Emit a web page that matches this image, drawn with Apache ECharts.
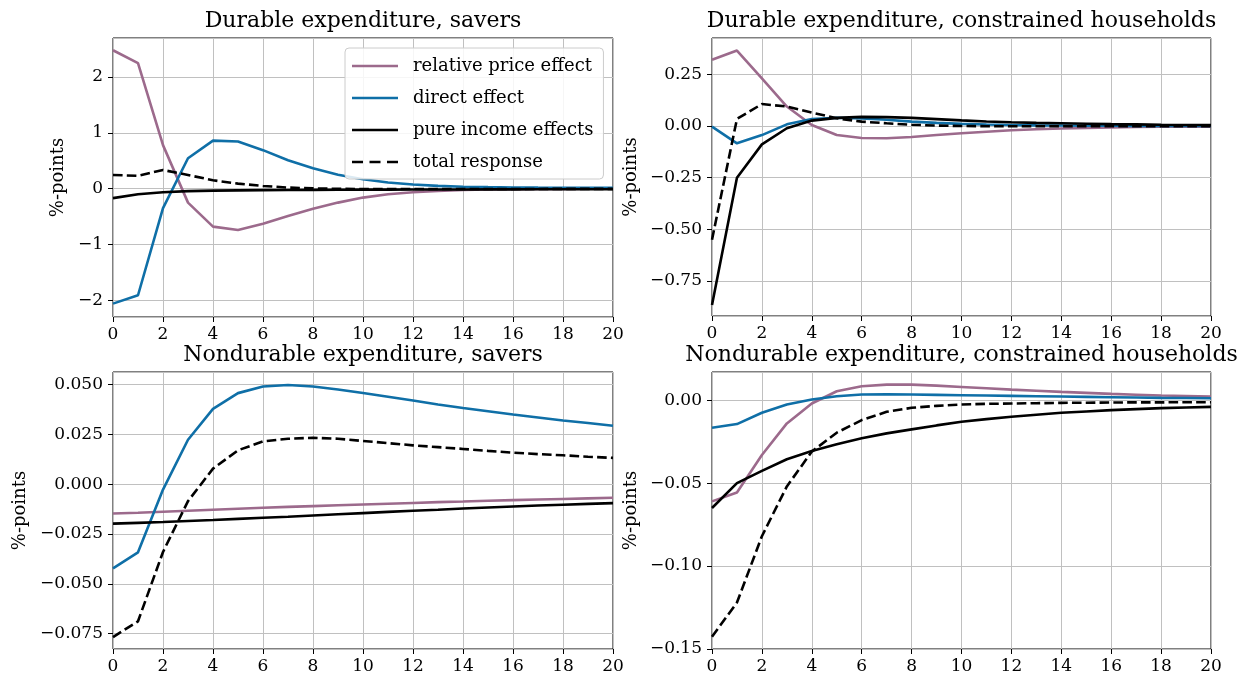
<!DOCTYPE html>
<html>
<head>
<meta charset="utf-8">
<script src="https://cdn.jsdelivr.net/npm/echarts@6/dist/echarts.min.js"></script>
<style>
  html, body { margin: 0; padding: 0; background: #fff; }
  #main { width: 1242px; height: 679px; }
</style>
</head>
<body>
<div id="main"></div>
<script>
// horizon (quarters)
var periods = [0, 1, 2, 3, 4, 5, 6, 7, 8, 9, 10, 11, 12, 13, 14, 15, 16, 17, 18, 19, 20];
var seriesNames = ["relative price effect", "direct effect", "pure income effects", "total response"];
var panelTitles = [
  "Durable expenditure, savers",
  "Durable expenditure, constrained households",
  "Nondurable expenditure, savers",
  "Nondurable expenditure, constrained households"
];

// durable, savers
var relPrice1 = [2.48, 2.25, 0.78, -0.25, -0.68, -0.74, -0.63, -0.49, -0.36, -0.25, -0.16, -0.10, -0.065, -0.04, -0.025, -0.015, -0.01, -0.006, -0.004, -0.002, -0.001];
var direct1 = [-2.06, -1.91, -0.35, 0.545, 0.86, 0.845, 0.69, 0.51, 0.365, 0.25, 0.17, 0.11, 0.075, 0.05, 0.035, 0.027, 0.022, 0.019, 0.017, 0.015, 0.014];
var income1 = [-0.17, -0.10, -0.065, -0.045, -0.035, -0.03, -0.026, -0.023, -0.021, -0.019, -0.018, -0.017, -0.016, -0.015, -0.014, -0.013, -0.012, -0.011, -0.011, -0.010, -0.010];
var total1 = [0.245, 0.23, 0.335, 0.245, 0.15, 0.09, 0.048, 0.02, 0.005, -0.003, -0.006, -0.007, -0.007, -0.007, -0.006, -0.006, -0.005, -0.005, -0.004, -0.004, -0.004];

// durable, constrained
var relPrice2 = [0.32, 0.365, 0.23, 0.094, 0.005, -0.044, -0.058, -0.059, -0.053, -0.044, -0.035, -0.028, -0.021, -0.016, -0.012, -0.009, -0.007, -0.005, -0.004, -0.003, -0.003];
var direct2 = [-0.003, -0.084, -0.044, 0.008, 0.034, 0.04, 0.037, 0.03, 0.021, 0.015, 0.01, 0.007, 0.005, 0.003, 0.002, 0.001, 0.001, 0.0, 0.0, 0.0, 0.0];
var income2 = [-0.866, -0.25, -0.089, -0.011, 0.026, 0.039, 0.044, 0.043, 0.039, 0.033, 0.027, 0.022, 0.018, 0.015, 0.013, 0.011, 0.009, 0.008, 0.006, 0.005, 0.005];
var total2 = [-0.55, 0.034, 0.106, 0.094, 0.065, 0.037, 0.021, 0.013, 0.006, 0.002, 0.0, -0.001, -0.001, -0.001, -0.001, -0.001, -0.001, -0.001, -0.001, -0.001, -0.001];

// nondurable, savers
var relPrice3 = [-0.0147, -0.0143, -0.0138, -0.0133, -0.0128, -0.0123, -0.0118, -0.0114, -0.0110, -0.0106, -0.0102, -0.0098, -0.0094, -0.0090, -0.0087, -0.0083, -0.0080, -0.0077, -0.0074, -0.0071, -0.0068];
var direct3 = [-0.0422, -0.0342, -0.0027, 0.0223, 0.0378, 0.0457, 0.049, 0.0498, 0.049, 0.0475, 0.0458, 0.0439, 0.042, 0.040, 0.0382, 0.0366, 0.035, 0.0335, 0.032, 0.0307, 0.0293];
var income3 = [-0.0198, -0.0194, -0.0190, -0.0185, -0.0180, -0.0174, -0.0168, -0.0163, -0.0157, -0.0151, -0.0145, -0.0139, -0.0133, -0.0128, -0.0122, -0.0117, -0.0112, -0.0107, -0.0103, -0.0099, -0.0095];
var total3 = [-0.0767, -0.0688, -0.034, -0.0085, 0.0078, 0.017, 0.0215, 0.0228, 0.0233, 0.0228, 0.0217, 0.0206, 0.0195, 0.0186, 0.0177, 0.0167, 0.0158, 0.0151, 0.0145, 0.0138, 0.0132];

// nondurable, constrained
var relPrice4 = [-0.061, -0.0556, -0.033, -0.014, -0.002, 0.0054, 0.0084, 0.0094, 0.0094, 0.0088, 0.008, 0.0072, 0.0064, 0.0057, 0.005, 0.0044, 0.0038, 0.0033, 0.0028, 0.0025, 0.0022];
var direct4 = [-0.0166, -0.0144, -0.0076, -0.0026, 0.0004, 0.0024, 0.0034, 0.0036, 0.0034, 0.0032, 0.003, 0.0028, 0.0026, 0.0024, 0.0022, 0.002, 0.0018, 0.0016, 0.0014, 0.0013, 0.0012];
var income4 = [-0.065, -0.05, -0.0426, -0.0356, -0.0306, -0.0266, -0.023, -0.02, -0.0176, -0.0152, -0.013, -0.0114, -0.010, -0.0088, -0.0076, -0.0068, -0.006, -0.0054, -0.0048, -0.0044, -0.004];
var total4 = [-0.1426, -0.122, -0.082, -0.052, -0.031, -0.0196, -0.012, -0.007, -0.0046, -0.0034, -0.0026, -0.0022, -0.002, -0.0018, -0.0016, -0.0015, -0.0014, -0.0013, -0.0013, -0.0012, -0.0012];

// y axis ranges and tick steps
var yMin = [-2.3, -0.919, -0.0827, -0.15];
var yMax = [2.7, 0.4255, 0.0563, 0.017];
var yStep = [1, 0.25, 0.025, 0.05];
var yDecimals = [0, 2, 3, 2];

var panelData = [
  [relPrice1, direct1, income1, total1],
  [relPrice2, direct2, income2, total2],
  [relPrice3, direct3, income3, total3],
  [relPrice4, direct4, income4, total4]
];

var FONT = "DejaVu Serif";
var colors = ["#9c6a8c", "#0f6fa7", "#000000", "#000000"];
var lineTypes = ["solid", "solid", "solid", [9.6, 4.2]];
// legend handles: solid bar or three dashes, drawn inside a 46x14 box
var solidIcon = "path://M0,0M0,5.7h46v2.6H0zM46,14";
var dashIcon = "path://M0,0M0,5.7h11v2.6H0zM17.5,5.7h11v2.6h-11zM35,5.7h11v2.6h-11zM46,14";

var grids = [
  { left: 113, top: 38, width: 500, height: 279 },
  { left: 712, top: 38, width: 499, height: 278 },
  { left: 113, top: 372, width: 500, height: 277 },
  { left: 712, top: 372, width: 499, height: 277 }
];
var nameGaps = [46, 72, 84, 72];

function fmt(v, d) {
  var s = Math.abs(v).toFixed(d);
  if (v < 0 && Math.abs(v) > 1e-12) s = "\u2212" + s;
  return s;
}

function pairs(arr) {
  var out = [];
  for (var i = 0; i < periods.length; i++) out.push([periods[i], arr[i]]);
  return out;
}

var titles = [], xAxes = [], yAxes = [], series = [];
for (var p = 0; p < 4; p++) {
  var g = grids[p];
  g.show = true;
  g.borderColor = "#000";
  g.borderWidth = 1;
  g.containLabel = false;

  titles.push({
    text: panelTitles[p],
    left: g.left + g.width / 2,
    top: p < 2 ? 10 : 344,
    textAlign: "center",
    padding: 0,
    textStyle: { fontFamily: FONT, fontSize: 22, fontWeight: "normal", color: "#000" }
  });

  xAxes.push({
    type: "value",
    gridIndex: p,
    min: 0,
    max: 20,
    interval: 2,
    axisLine: { show: false, onZero: false },
    axisTick: { show: true, length: 5, lineStyle: { color: "#000", width: 1 } },
    axisLabel: { margin: 9, color: "#000", fontFamily: FONT, fontSize: 17 },
    splitLine: { show: true, lineStyle: { color: "#c0c0c0", width: 1 } }
  });

  (function (d) {
    yAxes.push({
      type: "value",
      gridIndex: p,
      min: yMin[p],
      max: yMax[p],
      minInterval: yStep[p],
      maxInterval: yStep[p],
      name: "%-points",
      nameLocation: "middle",
      nameRotate: 90,
      nameGap: nameGaps[p],
      nameTextStyle: { fontFamily: FONT, fontSize: 18, color: "#000" },
      axisLine: { show: false, onZero: false },
      axisTick: { show: true, length: 5, lineStyle: { color: "#000", width: 1 } },
      axisLabel: {
        margin: 10,
        color: "#000",
        fontFamily: FONT,
        fontSize: 17,
        showMinLabel: p === 3,
        showMaxLabel: false,
        formatter: function (v) { return fmt(v, d); }
      },
      splitLine: { show: true, lineStyle: { color: "#c0c0c0", width: 1 } }
    });
  })(yDecimals[p]);

  for (var s = 0; s < 4; s++) {
    series.push({
      name: seriesNames[s],
      type: "line",
      xAxisIndex: p,
      yAxisIndex: p,
      data: pairs(panelData[p][s]),
      symbol: "none",
      showSymbol: false,
      clip: true,
      lineStyle: { color: colors[s], width: 2.6, type: lineTypes[s] },
      itemStyle: { color: colors[s] },
      z: 2 + s
    });
  }
}

var legendData = [];
for (var k = 0; k < seriesNames.length; k++) {
  legendData.push({ name: seriesNames[k], icon: k === 3 ? dashIcon : solidIcon });
}

var myChart = echarts.init(document.getElementById("main"));
myChart.setOption({
  animation: false,
  backgroundColor: "#fff",
  title: titles,
  grid: grids,
  xAxis: xAxes,
  yAxis: yAxes,
  legend: {
    data: legendData,
    orient: "vertical",
    left: 345,
    top: 48,
    padding: [9, 10, 8, 7],
    itemWidth: 46,
    itemHeight: 14,
    itemGap: 14,
    backgroundColor: "rgba(255,255,255,0.85)",
    borderColor: "#cccccc",
    borderWidth: 1,
    borderRadius: 4,
    selectedMode: false,
    textStyle: { fontFamily: FONT, fontSize: 18, color: "#000", padding: [0, 0, 0, 10] }
  },
  series: series
});
</script>
</body>
</html>
